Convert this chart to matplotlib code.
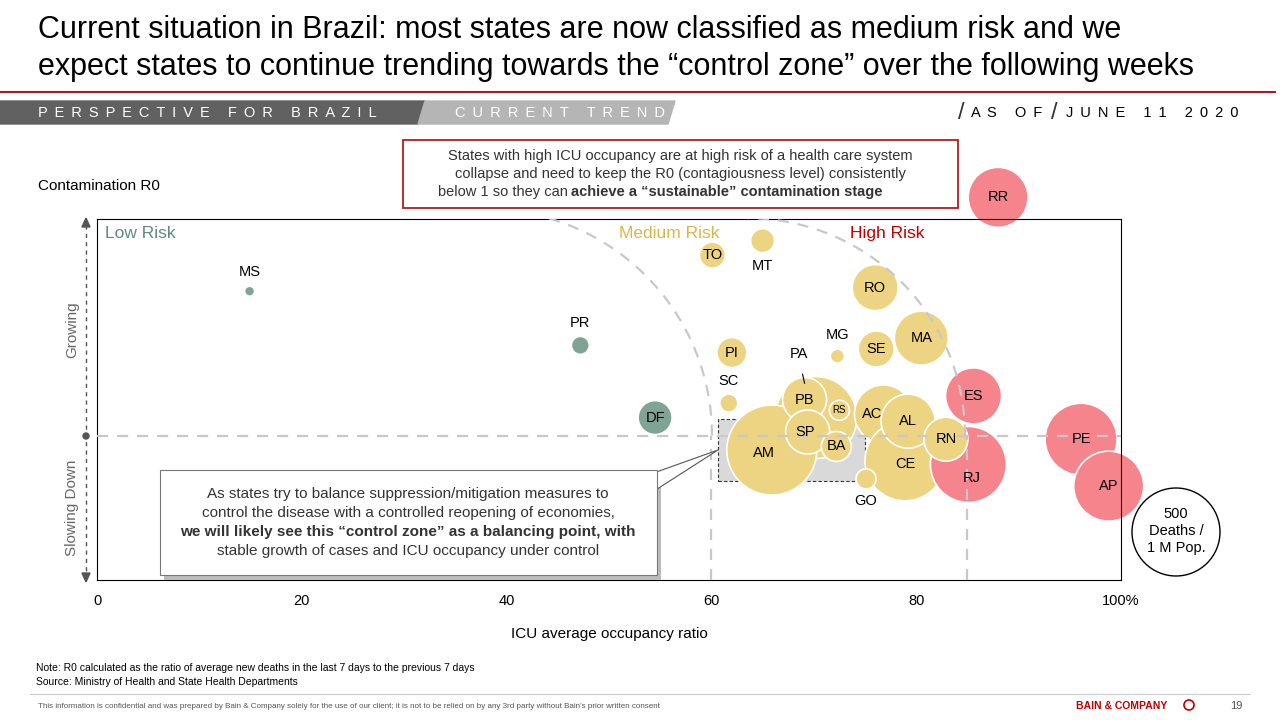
import matplotlib.pyplot as plt
from matplotlib.patches import Ellipse, Rectangle, Polygon
import numpy as np

plt.rcParams['font.family'] = ['Liberation Sans', 'DejaVu Sans']

# bubble data: state, ICU occupancy %, R0 trend index (0..1, 0.4 = stable), bubble radius (px), group
states = ['MS', 'PR', 'DF', 'TO', 'MT', 'PI', 'SC', 'PA', 'AM', 'PB', 'SP', 'RS', 'BA', 'MG',
          'RO', 'SE', 'MA', 'AC', 'CE', 'AL', 'GO', 'RJ', 'ES', 'RN', 'PE', 'AP', 'RR']
icu = [14.9, 47.2, 54.5, 60.1, 65.0, 62.0, 61.7, 70.2, 65.9, 69.1, 69.4, 72.5, 72.2, 72.3,
       76.0, 76.1, 80.5, 76.8, 78.9, 79.2, 75.1, 85.1, 85.6, 82.9, 96.1, 98.8, 88.0]
r0 = [0.80, 0.65, 0.45, 0.90, 0.94, 0.63, 0.49, 0.45, 0.36, 0.50, 0.41, 0.47, 0.37, 0.62,
      0.81, 0.64, 0.67, 0.46, 0.33, 0.44, 0.28, 0.32, 0.51, 0.39, 0.39, 0.26, 1.06]
radius = [5, 9, 17, 13, 12, 15, 9, 41, 45, 22, 22, 10, 15, 7,
          23, 18, 27, 29, 40, 27, 10, 38, 28, 22, 36, 35, 30]
group = ['L', 'L', 'L', 'M', 'M', 'M', 'M', 'M', 'M', 'M', 'M', 'M', 'M', 'M',
         'M', 'M', 'M', 'M', 'M', 'M', 'M', 'H', 'H', 'M', 'H', 'H', 'H']
# label offsets for small bubbles (points): label placed outside the bubble
outside = {'MS': (0, 14), 'PR': (0, 16), 'MT': (0, -18), 'SC': (0, 16), 'MG': (0, 15),
           'GO': (0, -16), 'PA': (-12, 46)}
labels_off = {'TO': (0, 0), 'AC': (-8, 0), 'AM': (-6, -2), 'SP': (-2, 0), 'RJ': (2, -10),
              'CE': (0, -2), 'RN': (0, 0)}

colors = {'L': '#7fa495', 'M': '#edd482', 'H': '#f5848d'}

fig = plt.figure(figsize=(12.8, 7.2), dpi=100)
W, H = 1280, 720


def fx(px):
    return px / W


def fy(py):
    return 1 - py / H


def spaced(s):
    return ' \u2009'.join(s)


# title and header
fig.text(fx(38), fy(30), 'Current situation in Brazil: most states are now classified as medium risk and we',
         fontsize=22, va='center')
fig.text(fx(38), fy(67), 'expect states to continue trending towards the \u201ccontrol zone\u201d over the following weeks',
         fontsize=22, va='center')
fig.add_artist(plt.Line2D([fx(0), fx(1275)], [fy(92), fy(92)], color='#a31f24', lw=1.5))
fig.add_artist(Polygon([[fx(0), fy(101)], [fx(425), fy(101)], [fx(418), fy(124)], [fx(0), fy(124)]],
                       closed=True, color='#616161', transform=fig.transFigure))
fig.add_artist(Polygon([[fx(425), fy(101)], [fx(675), fy(101)], [fx(668), fy(124)], [fx(418), fy(124)]],
                       closed=True, color='#b5b5b5', transform=fig.transFigure))
fig.text(fx(38), fy(113), spaced('PERSPECTIVE FOR BRAZIL'), color='white', fontsize=10.5, va='center')
fig.text(fx(455), fy(113), spaced('CURRENT TREND'), color='white', fontsize=10.5, va='center')
fig.text(fx(958), fy(113), '/', fontsize=17, va='center', color='#333333')
fig.text(fx(971), fy(113), spaced('AS OF'), fontsize=10.5, va='center')
fig.text(fx(1051), fy(113), '/', fontsize=17, va='center', color='#333333')
fig.text(fx(1066), fy(113), spaced('JUNE 11 2020'), fontsize=10.5, va='center')

# main axes: x 0..100 from px 97 to 1121, y 0..1 from px 580 to 219
ax = fig.add_axes([fx(97), fy(580), fx(1121) - fx(97), fy(219) - fy(580)])
ax.set_xlim(0, 100)
ax.set_ylim(0, 1)
for s in ax.spines.values():
    s.set_color('black')
    s.set_linewidth(0.8)
ax.set_xticks([0, 20, 40, 60, 80, 100])
ax.set_xticklabels(['0', '20', '40', '60', '80', '100%'], fontsize=10.5)
ax.tick_params(length=0, pad=10)
ax.set_yticks([])
ax.set_xlabel('ICU average occupancy ratio', fontsize=11, labelpad=14)

pxx = 10.24   # px per x unit
pxy = 361.0   # px per y unit

# control zone
ax.add_patch(Rectangle((60.6, 0.275), 14.4, 0.17, facecolor='#d9d9d9', edgecolor='#333333', ls=(0, (3, 2)),
                       lw=0.8, zorder=1))

# bubbles
for st, x, y, r, g in zip(states, icu, r0, radius, group):
    ax.add_patch(Ellipse((x, y), 2 * r / pxx, 2 * r / pxy, facecolor=colors[g], edgecolor='white',
                         lw=1.2, zorder=2, clip_on=False))
    if st in outside:
        dx, dy = outside[st]
        ax.annotate(st, (x, y), xytext=(dx, dy), textcoords='offset points', ha='center', va='center',
                    fontsize=10.5, zorder=5, annotation_clip=False)
        if st == 'PA':
            ax.plot([x - 1.3, x - 1.1], [y + 0.12, y + 0.095], color='black', lw=0.8, zorder=5)
    else:
        dx, dy = labels_off.get(st, (0, 0))
        ax.annotate(st, (x, y), xytext=(dx, dy), textcoords='offset points', ha='center', va='center',
                    fontsize=7 if st == 'RS' else 10.5, zorder=5, annotation_clip=False)

# dashed guide lines and arcs
dash = dict(color='#c8c8c8', lw=1.6, ls=(0, (5, 4)), zorder=4)
ax.plot([0, 100], [0.4, 0.4], **dash)
ax.plot([60, 60], [0, 0.4], **dash)
ax.plot([85, 85], [0, 0.4], **dash)
t = np.linspace(0, np.pi / 2, 60)
for cx, R in [((485.7 - 97) / pxx, 226.3), ((747.6 - 97) / pxx, 217.4)]:
    ax.plot(cx + R / pxx * np.cos(t), 0.4 + R / pxy * np.sin(t), **dash)

ax.text(0.8, 0.96, 'Low Risk', color='#5e8c7b', fontsize=12.5, va='center')
ax.text(51, 0.96, 'Medium Risk', color='#d9b64a', fontsize=12.5, va='center')
ax.text(73.5, 0.96, 'High Risk', color='#c00000', fontsize=12.5, va='center')

# left axis arrow
fig.add_artist(plt.Line2D([fx(86), fx(86)], [fy(225), fy(575)], color='#555555', lw=1, ls=(0, (3, 3))))
fig.add_artist(Polygon([[fx(82), fy(227)], [fx(90), fy(227)], [fx(86), fy(218)]], closed=True, color='#555555',
                       transform=fig.transFigure))
fig.add_artist(Polygon([[fx(82), fy(573)], [fx(90), fy(573)], [fx(86), fy(582)]], closed=True, color='#555555',
                       transform=fig.transFigure))
fig.add_artist(Ellipse((fx(86), fy(436)), 6 / W, 6 / H, color='#555555', transform=fig.transFigure))
fig.text(fx(72), fy(330), 'Growing', rotation=90, color='#666666', fontsize=11, ha='center', va='center')
fig.text(fx(72), fy(508), 'Slowing Down', rotation=90, color='#666666', fontsize=11, ha='center', va='center')
fig.text(fx(38), fy(186), 'Contamination R0', fontsize=11, va='center')

# top callout
fig.add_artist(Rectangle((fx(403), fy(208)), fx(958) - fx(403), fy(140) - fy(208), facecolor='white',
                         edgecolor='#b01e23', lw=1.3, transform=fig.transFigure))
fig.text(fx(680), fy(156), 'States with high ICU occupancy are at high risk of a health care system',
         fontsize=10.5, ha='center', va='center', color='#333333')
fig.text(fx(680), fy(174), 'collapse and need to keep the R0 (contagiousness level) consistently',
         fontsize=10.5, ha='center', va='center', color='#333333')
fig.text(fx(438), fy(192), 'below 1 so they can ', fontsize=10.5, va='center', color='#333333')
fig.text(fx(571), fy(192), 'achieve a \u201csustainable\u201d contamination stage', fontsize=10.5, va='center',
         color='#333333', fontweight='bold')

# bottom callout with shadow and pointer
fig.add_artist(Rectangle((fx(164), fy(580)), fx(661) - fx(164), fy(474) - fy(580), facecolor='#bbbbbb',
                         edgecolor='none', transform=fig.transFigure))
fig.add_artist(Polygon([[fx(620), fy(485)], [fx(718), fy(450)], [fx(640), fy(500)]], closed=True,
                       facecolor='white', edgecolor='#555555', lw=0.8, transform=fig.transFigure))
fig.add_artist(Rectangle((fx(160), fy(575)), fx(657) - fx(160), fy(470) - fy(575), facecolor='white',
                         edgecolor='#777777', lw=0.8, transform=fig.transFigure))
fig.text(fx(408), fy(494), 'As states try to balance suppression/mitigation measures to', fontsize=11,
         ha='center', va='center', color='#333333')
fig.text(fx(408), fy(513), 'control the disease with a controlled reopening of economies,', fontsize=11,
         ha='center', va='center', color='#333333')
fig.text(fx(408), fy(532), 'we will likely see this \u201ccontrol zone\u201d as a balancing point, with',
         fontsize=11, ha='center', va='center', color='#333333', fontweight='bold')
fig.text(fx(408), fy(551), 'stable growth of cases and ICU occupancy under control', fontsize=11,
         ha='center', va='center', color='#333333')

# size legend
fig.add_artist(Ellipse((fx(1176), fy(532)), 88 / W, 88 / H, facecolor='white', edgecolor='black', lw=1,
                       transform=fig.transFigure))
for i, s in enumerate(['500', 'Deaths /', '1 M Pop.']):
    fig.text(fx(1176), fy(514 + 17 * i), s, fontsize=10.5, ha='center', va='center')

# footer
fig.text(fx(36), fy(668), 'Note: R0 calculated as the ratio of average new deaths in the last 7 days to the previous 7 days',
         fontsize=7.5, va='center')
fig.text(fx(36), fy(682), 'Source: Ministry of Health and State Health Departments', fontsize=7.5, va='center')
fig.add_artist(plt.Line2D([fx(30), fx(1250)], [fy(694), fy(694)], color='#cccccc', lw=0.8))
fig.text(fx(38), fy(706), 'This information is confidential and was prepared by Bain & Company solely for the use of our client; '
         'it is not to be relied on by any 3rd party without Bain\u2019s prior written consent',
         fontsize=5.8, va='center', color='#555555')
fig.text(fx(1076), fy(706), 'BAIN & COMPANY', fontsize=7.5, va='center', color='#c00000', fontweight='bold')
fig.add_artist(Ellipse((fx(1189), fy(705)), 10 / W, 10 / H, facecolor='none', edgecolor='#c00000', lw=1.2,
                       transform=fig.transFigure))
fig.text(fx(1230), fy(706), '19', fontsize=8, va='center', color='#555555')

fig.savefig('out.png', dpi=100)
